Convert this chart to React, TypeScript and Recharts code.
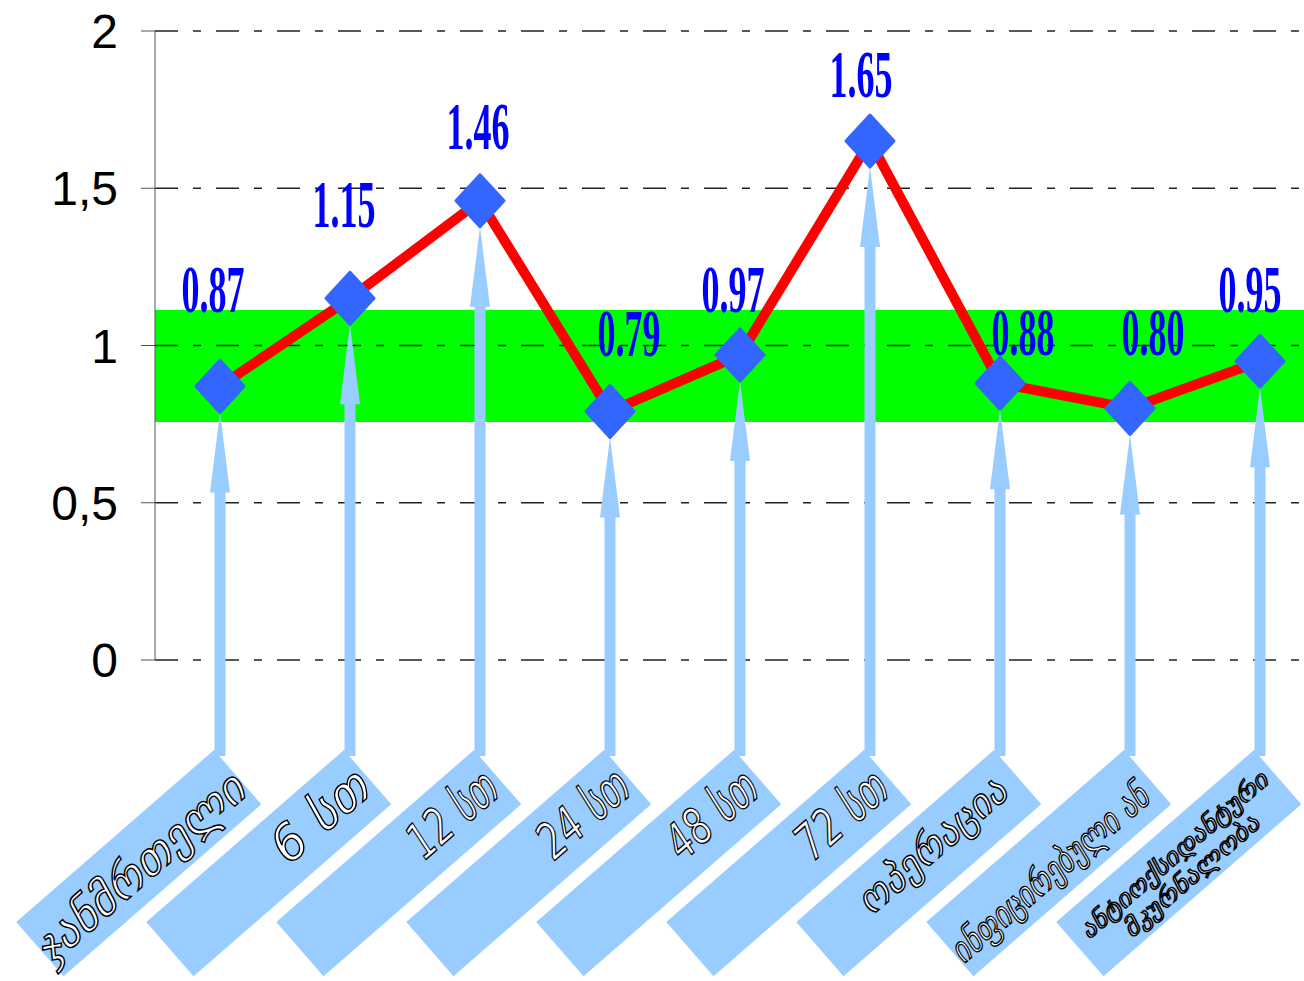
import { ComposedChart, Line, XAxis, YAxis, ReferenceArea, ReferenceLine } from "recharts";

// stages of observation and the measured ratio at each one
const stages = [
  "ჯანმრთელი",
  "6 სთ",
  "12 სთ",
  "24 სთ",
  "48 სთ",
  "72 სთ",
  "ოპერაცია",
  "ინფიცირებული ან",
  "ანტიოქსიდანტური\nმკურნალობა",
];
const ratio = [0.87, 1.15, 1.46, 0.79, 0.97, 1.65, 0.88, 0.8, 0.95];
const yTicks = [0, 0.5, 1, 1.5, 2];
const normalLow = 0.757;
const normalHigh = 1.113;

// where each value label sits relative to its marker (dx of centre, dy of baseline)
const labelNudge: [number, number][] = [
  [-7, -74], [-6, -71], [-2, -52], [19, -56], [-7, -43],
  [-9, -44], [23, -28], [23, -53], [-10, -49],
];

// text layout inside each rotated tag: font size, right end, fitted length, centre line
const tagText: { fs: number; end: number; len: number; y: number }[][] = [
  [{ fs: 46, end: -2, len: 262, y: 40 }],
  [{ fs: 50, end: -6, len: 112, y: 34 }],
  [{ fs: 50, end: -8, len: 102, y: 34 }],
  [{ fs: 50, end: -6, len: 104, y: 34 }],
  [{ fs: 50, end: -8, len: 104, y: 34 }],
  [{ fs: 50, end: -8, len: 104, y: 34 }],
  [{ fs: 40, end: -17, len: 185, y: 31 }],
  [{ fs: 36, end: -12, len: 250, y: 44 }],
  [
    { fs: 24, end: -9, len: 240, y: 27 },
    { fs: 24, end: -44, len: 172, y: 54 },
  ],
];

const rows = stages.map((stage, i) => ({ idx: i, stage, ratio: ratio[i] }));
const xTicks = stages.map((_, i) => i);

const TAG_TOP = 750;
const TAG_W = 262;
const TAG_H = 72;

function renderTag(props: any) {
  const { x, payload } = props;
  const index = Number(payload.value);
  const lines = (stages[index] ?? "").split("\n");
  const layout = tagText[index] ?? tagText[0];
  return (
    <g key={`tag-${index}`} transform={`translate(${x - 6},${TAG_TOP}) rotate(-41)`}>
      <rect x={-TAG_W} y={0} width={TAG_W} height={TAG_H} fill="#99ccff" />
      {lines.map((line, li) => {
        const t = layout[li] ?? layout[0];
        return (
          <text
            key={li}
            x={t.end}
            y={t.y}
            textAnchor="end"
            dominantBaseline="central"
            fontFamily="DejaVu Sans"
            fontStyle="italic"
            fontSize={t.fs}
            textLength={t.len}
            lengthAdjust="spacingAndGlyphs"
            fill="#ffffff"
            stroke="#000000"
            strokeWidth={1.4}
          >
            {line}
          </text>
        );
      })}
    </g>
  );
}

function renderMarker(props: any) {
  const { cx, cy, index, value } = props;
  if (cx == null || cy == null) return <g key={`m-${index}`} />;
  const tip = cy + 26;
  const base = tip + 80;
  const arrow = [
    [cx, tip],
    [cx + 10, base],
    [cx + 5.5, base],
    [cx + 5.5, TAG_TOP + 6],
    [cx - 5.5, TAG_TOP + 6],
    [cx - 5.5, base],
    [cx - 10, base],
  ]
    .map((p) => p.join(","))
    .join(" ");
  const diamond = [
    [cx, cy - 26],
    [cx + 24, cy],
    [cx, cy + 26],
    [cx - 24, cy],
  ]
    .map((p) => p.join(","))
    .join(" ");
  const [dx, dy] = labelNudge[index] ?? [0, -50];
  return (
    <g key={`m-${index}`}>
      <polygon points={arrow} fill="#99ccff" />
      <polygon points={diamond} fill="#3366ff" stroke="#3366ff" strokeWidth={3} strokeLinejoin="round" />
      <text
        x={cx + dx}
        y={cy + dy}
        textAnchor="middle"
        fontFamily="Liberation Serif"
        fontWeight="bold"
        fontSize={68}
        textLength={63}
        lengthAdjust="spacingAndGlyphs"
        fill="#0000ff"
      >
        {Number(value).toFixed(2)}
      </text>
    </g>
  );
}

export default function App() {
  return (
    <div
      style={{
        position: "fixed",
        left: 0,
        top: 0,
        width: 1304,
        height: 981,
        overflow: "hidden",
        background: "#ffffff",
      }}
    >
      <ComposedChart width={1340} height={981} data={rows} margin={{ top: 31, right: 15, bottom: 0, left: 0 }}>
        <XAxis
          dataKey="idx"
          type="number"
          domain={[-0.5, stages.length - 0.5]}
          ticks={xTicks}
          height={321}
          axisLine={false}
          tickLine={false}
          interval={0}
          tick={renderTag}
        />
        <YAxis
          type="number"
          domain={[0, 2]}
          ticks={yTicks}
          width={155}
          tickSize={14}
          tickMargin={23}
          axisLine={{ stroke: "#555555", strokeWidth: 1 }}
          tickLine={{ stroke: "#555555", strokeWidth: 1 }}
          tick={{ fill: "#000000", fontSize: 48, fontFamily: "Liberation Sans" }}
          tickFormatter={(v: number) => String(v).replace(".", ",")}
        />
        <ReferenceArea y1={normalLow} y2={normalHigh} fill="#00ff00" fillOpacity={1} stroke="none" />
        {yTicks.map((t) => (
          <ReferenceLine key={t} y={t} stroke="#222222" strokeWidth={1.3} strokeDasharray="23 15 8 15" />
        ))}
        <Line
          type="linear"
          dataKey="ratio"
          stroke="#ff0000"
          strokeWidth={10}
          dot={renderMarker}
          activeDot={false}
          isAnimationActive={false}
        />
      </ComposedChart>
    </div>
  );
}
